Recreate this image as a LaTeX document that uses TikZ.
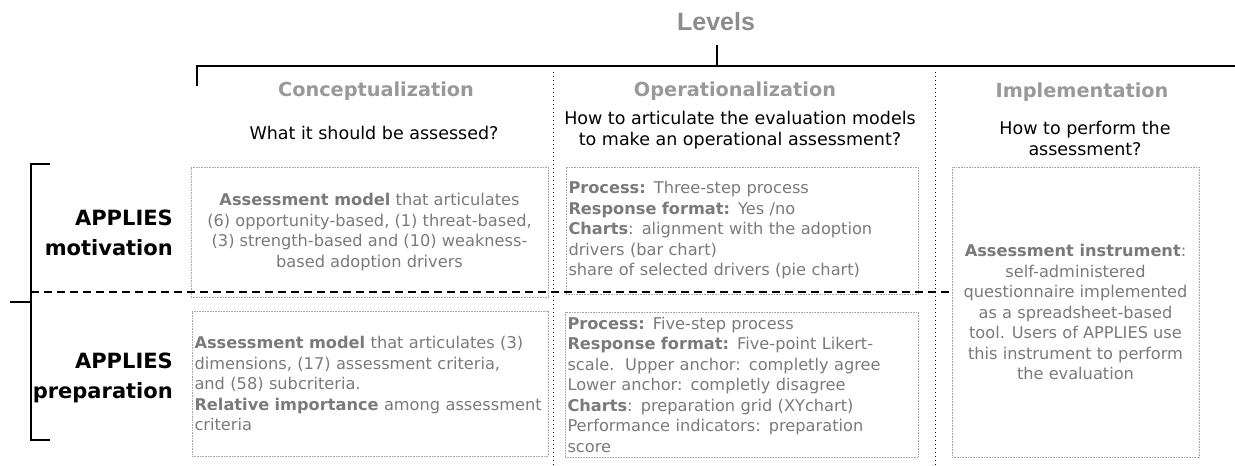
\documentclass[tikz,border=0pt]{standalone}
\usepackage{fontspec}
\setmainfont{DejaVu Sans}
\newfontfamily\levelfont{Liberation Sans}
\usepackage{tikz}
\usetikzlibrary{positioning}
\tikzset{%
  levelnode/.style = {font=\levelfont\bfseries\fontsize{25}{30}\selectfont,%
                      text=black!45},%
  title/.style     = {font=\bfseries\fontsize{19.3}{22}\selectfont, text=black!40},%
  question/.style  = {font=\fontsize{17.5}{21}\selectfont, align=center},%
  rowlabel/.style  = {font=\bfseries\fontsize{21}{30}\selectfont,%
                      align=right, anchor=east, inner sep=0pt},%
  box/.style       = {draw=black!35, dash pattern=on .8pt off .8pt,%
                      text=black!52, inner xsep=2pt, inner ysep=1pt,%
                      font=\fontsize{16.2}{20.5}\selectfont},%
  bracket/.style   = {line width=1.6pt},%
  colsep/.style    = {line width=1pt, dash pattern=on 1pt off 3pt},%
  splitline/.style = {line width=2.2pt, dash pattern=on 8pt off 5pt}%
}
\begin{document}
\begin{tikzpicture}[x=1pt, y=-1pt]
  \useasboundingbox (0,0) rectangle (1235,466);
  % -------------- LEVELS HEADER -----------------------------
  \node[levelnode] (levels) at (716,22) {Levels};
  \coordinate (lvtick) at (717,45);
  \coordinate (lvbase) at (717,66);
  \coordinate (hleft)  at (197,66);
  \coordinate (hright) at (1235,66);
  \coordinate (hdrop)  at (197,86);
  \draw[bracket] (lvtick) -- (lvbase);
  \draw[bracket] (hdrop) -- (hleft) -- (hright);
  % -------------- COLUMN HEADINGS -----------------------------
  \node[title] (concept) at (376,91) {Conceptualization};
  \node[question] (conceptq) at (374,133) {What it should be assessed?};
  \node[title] (oper) at (735,91) {Operationalization};
  \node[question] (operq) at (740,130)
    {How to articulate the evaluation models\\to make an operational assessment?};
  \node[title] (impl) at (1082,92) {Implementation};
  \node[question] (implq) at (1085,138) {How to perform the\\assessment?};
  \coordinate (sepA)    at (553,72);
  \coordinate (sepAend) at (553,466);
  \coordinate (sepB)    at (935,72);
  \coordinate (sepBend) at (935,466);
  \draw[colsep] (sepA) -- (sepAend);
  \draw[colsep] (sepB) -- (sepBend);
  % -------------- ROWS -----------------------------
  \node[rowlabel] (motiv) at (173,233) {APPLIES\\motivation};
  \node[rowlabel] (prep)  at (173,378) {APPLIES\\preparation};
  \coordinate (brtopr) at (50,164);
  \coordinate (brtop)  at (31,164);
  \coordinate (brbot)  at (31,440);
  \coordinate (brbotr) at (50,440);
  \coordinate (stub)   at (10,302);
  \coordinate (stubr)  at (31,302);
  \draw[bracket] (brtopr) -- (brtop) -- (brbot) -- (brbotr);
  \draw[bracket] (stub) -- (stubr);
  % -------------- CELLS -----------------------------
  \node[box, minimum width=357pt, minimum height=130pt, align=center]
    (cm) at (369.5,232)
    {\textbf{Assessment model} that articulates\\
     (6) opportunity-based, (1) threat-based,\\
     (3) strength-based and (10) weakness-\\
     based adoption drivers};
  \node[box, minimum width=356pt, minimum height=145pt,
        text width=351pt, align=left]
    (cp) at (370,383.5)
    {\textbf{Assessment model} that articulates (3)\\
     dimensions, (17) assessment criteria,\\
     and (58) subcriteria.\\
     \textbf{Relative importance} among assessment\\
     criteria};
  \node[box, minimum width=352pt, minimum height=127pt,
        text width=347pt, align=left]
    (om) at (742,230.5)
    {\textbf{Process:} Three-step process\\
     \textbf{Response format:} Yes /no\\
     \textbf{Charts}: alignment with the adoption\\
     drivers (bar chart)\\
     share of selected drivers (pie chart)};
  \node[box, minimum width=353pt, minimum height=145pt,
        text width=348pt, align=left]
    (op) at (741.5,384.5)
    {\textbf{Process:} Five-step process\\
     \textbf{Response format:} Five-point Likert-\\
     scale.\ \ Upper anchor: completly agree\\
     Lower anchor: completly disagree\\
     \textbf{Charts}: preparation grid (XYchart)\\
     Performance indicators: preparation\\
     score};
  \node[box, minimum width=247pt, minimum height=290pt, align=center]
    (ii) at (1075.5,312)
    {\textbf{Assessment instrument}:\\
     self-administered\\
     questionnaire implemented\\
     as a spreadsheet-based\\
     tool. Users of APPLIES use\\
     this instrument to perform\\
     the evaluation};
  % -------------- ROW SPLIT -----------------------------
  \coordinate (splitL) at (31,292);
  \draw[splitline] (splitL) -- (ii.west |- splitL);
\end{tikzpicture}
\end{document}
